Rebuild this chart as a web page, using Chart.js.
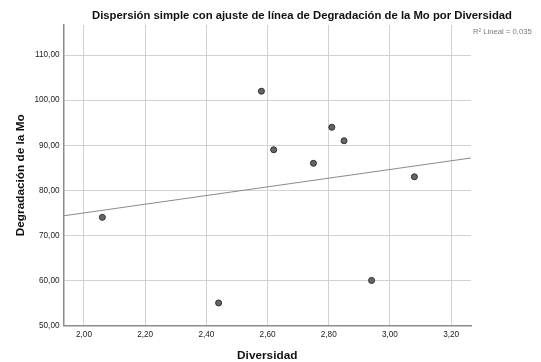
<!DOCTYPE html>
<html>
<head>
<meta charset="utf-8">
<script src="https://cdn.jsdelivr.net/npm/chart.js@4.4.0/dist/chart.umd.min.js"></script>
<style>
  html, body { margin: 0; padding: 0; background: #fff; }
  #wrap { width: 541px; height: 362px; }
</style>
</head>
<body>
<div id="wrap"><canvas id="grafica" width="541" height="362"></canvas></div>
<script>
// Datos
const diversidad = [2.06, 2.44, 2.58, 2.62, 2.75, 2.81, 2.85, 2.94, 3.08];
const degradacion = [74, 55, 102, 89, 86, 94, 91, 60, 83];
const ticksX = [2.0, 2.2, 2.4, 2.6, 2.8, 3.0, 3.2];
const ticksY = [50, 60, 70, 80, 90, 100, 110];
const titulo = "Dispersión simple con ajuste de línea de Degradación de la Mo por Diversidad";
const etiquetaR2 = "R² Lineal = 0,035";

const xMin = 1.933, xMax = 3.265;
const yMin = 50, yMax = 116.7;

// ajuste lineal (minimos cuadrados)
const n = diversidad.length;
const mx = diversidad.reduce((a, b) => a + b, 0) / n;
const my = degradacion.reduce((a, b) => a + b, 0) / n;
let sxy = 0, sxx = 0;
for (let i = 0; i < n; i++) {
    sxy += (diversidad[i] - mx) * (degradacion[i] - my);
    sxx += (diversidad[i] - mx) * (diversidad[i] - mx);
}
const pendiente = sxy / sxx;
const intercepto = my - pendiente * mx;
const lineaAjuste = [xMin, xMax].map(x => ({ x: x, y: intercepto + pendiente * x }));

const puntos = diversidad.map((x, i) => ({ x: x, y: degradacion[i] }));

const formato = v => v.toFixed(2).replace(".", ",");

const textos = {
    id: "textos",
    afterDraw(chart) {
        const ctx = chart.ctx;
        ctx.save();
        ctx.fillStyle = "#111";
        ctx.font = "bold 11.3px 'Liberation Sans', Arial, sans-serif";
        ctx.textAlign = "center";
        ctx.textBaseline = "middle";
        ctx.fillText(titulo, 302, 16);
        ctx.fillStyle = "#7a7a7a";
        ctx.font = "7.7px 'Liberation Sans', Arial, sans-serif";
        ctx.textAlign = "left";
        ctx.fillText(etiquetaR2, 473, 32);
        ctx.restore();
    }
};

const ctx = document.getElementById("grafica").getContext("2d");
const grafica = new Chart(ctx, {
    type: "scatter",
    data: {
        datasets: [{
            type: "line",
            data: lineaAjuste,
            borderColor: "#8a8a8a",
            borderWidth: 1,
            pointRadius: 0,
            fill: false
        }, {
            data: puntos,
            backgroundColor: "#666",
            borderColor: "#2e2e2e",
            borderWidth: 1,
            pointRadius: 3
        }]
    },
    options: {
        responsive: false,
        animation: false,
        layout: { padding: { left: 0, top: 25, right: 70, bottom: 0 } },
        plugins: {
            legend: { display: false },
            tooltip: { enabled: false },
            title: { display: false }
        },
        scales: {
            x: {
                type: "linear",
                min: xMin,
                max: xMax,
                afterFit(scale) { scale.height = 36.5; },
                afterBuildTicks(scale) { scale.ticks = ticksX.map(v => ({ value: v })); },
                grid: { color: "#d2d2d2", lineWidth: 1, drawTicks: false },
                border: { color: "#8c8c8c", width: 1.5 },
                ticks: {
                    padding: 4,
                    color: "#222",
                    font: { family: "'Liberation Sans', Arial, sans-serif", size: 8.2 },
                    maxRotation: 0,
                    callback: v => formato(v)
                },
                title: {
                    display: true,
                    text: "Diversidad",
                    color: "#111",
                    font: { family: "'Liberation Sans', Arial, sans-serif", size: 11.8, weight: "bold", lineHeight: 1 },
                    padding: { top: 0, bottom: 0 }
                }
            },
            y: {
                type: "linear",
                min: yMin,
                max: yMax,
                afterFit(scale) { scale.width = 63.5; },
                afterBuildTicks(scale) { scale.ticks = ticksY.map(v => ({ value: v })); },
                grid: { color: "#d2d2d2", lineWidth: 1, drawTicks: false },
                border: { color: "#8c8c8c", width: 1.5 },
                ticks: {
                    padding: 4,
                    color: "#222",
                    font: { family: "'Liberation Sans', Arial, sans-serif", size: 8.2 },
                    callback: v => formato(v)
                },
                title: {
                    display: true,
                    text: "Degradación de la Mo",
                    color: "#111",
                    font: { family: "'Liberation Sans', Arial, sans-serif", size: 11.8, weight: "bold", lineHeight: 1 },
                    padding: { top: 15, bottom: 0 }
                }
            }
        }
    },
    plugins: [textos]
});
</script>
</body>
</html>
